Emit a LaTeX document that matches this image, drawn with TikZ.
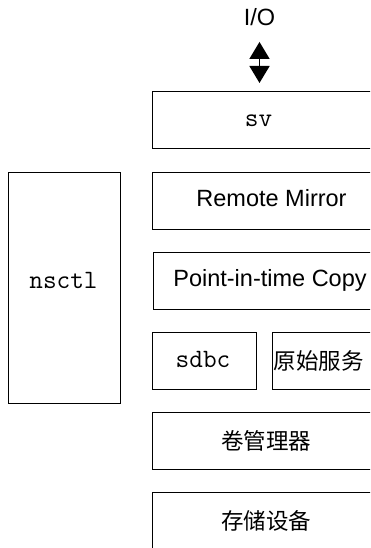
\documentclass[tikz,border=0pt]{standalone}
\usepackage{fontspec}
\setmainfont{Liberation Sans}
\newfontfamily\cjk{Noto Sans CJK SC}
\usetikzlibrary{arrows.meta}

\tikzset{
  layer/.style={draw, line width=1.3pt, inner sep=0pt, anchor=north west},
  lbl/.style={inner sep=0pt, anchor=base},
  sanslbl/.style={lbl, font=\fontsize{23.5pt}{26pt}\selectfont},
  monolbl/.style={lbl, font=\fontsize{26.5pt}{28pt}\ttfamily},
  cjklbl/.style={lbl, font=\fontsize{22.5pt}{26pt}\cjk},
  ioarrow/.style={line width=1.6pt,
    {Triangle[width=20pt,length=17pt]}-{Triangle[width=20pt,length=17pt]}}
}

\begin{document}
\begin{tikzpicture}[x=1pt,y=-1pt]
  \useasboundingbox (0,0) rectangle (370,548);
  \clip (0,0) rectangle (370,548);

  % layer boxes (right-hand side runs past the page edge)
  \node[layer, minimum width=240pt, minimum height=57pt] (sv)     at (152,91)  {};
  \node[layer, minimum width=112pt, minimum height=231pt] (nsctl) at (8,172)   {};
  \node[layer, minimum width=240pt, minimum height=57pt] (rm)     at (152,172) {};
  \node[layer, minimum width=240pt, minimum height=57pt] (pit)    at (153,252) {};
  \node[layer, minimum width=104pt, minimum height=57pt] (sdbc)   at (152,332) {};
  \node[layer, minimum width=120pt, minimum height=57pt] (raw)    at (272,332) {};
  \node[layer, minimum width=240pt, minimum height=57pt] (vm)     at (152,412) {};
  \node[layer, minimum width=240pt, minimum height=80pt] (disk)   at (152,492) {};

  % labels
  \node[sanslbl] (io) at (259.5,26) {I/O};
  \node[monolbl] (svtext)    at (258.5,127) {sv};
  \node[monolbl] (nsctltext) at (63.5,288)  {nsctl};
  \node[sanslbl] (rmtext)    at (271.5,206) {Remote Mirror};
  \node[sanslbl] (pittext)   at (270,286)   {Point-in-time Copy};
  \node[monolbl] (sdbctext)  at (203,367)   {sdbc};
  \node[cjklbl]  (rawtext)   at (318.5,369) {原始服务};
  \node[cjklbl]  (vmtext)    at (266,449)   {卷管理器};
  \node[cjklbl]  (disktext)  at (266,529)   {存储设备};

  % I/O into the top layer
  \draw[ioarrow, shorten <=15.5pt, shorten >=8pt] (io.south) -- (io.south |- sv.north);
\end{tikzpicture}
\end{document}
